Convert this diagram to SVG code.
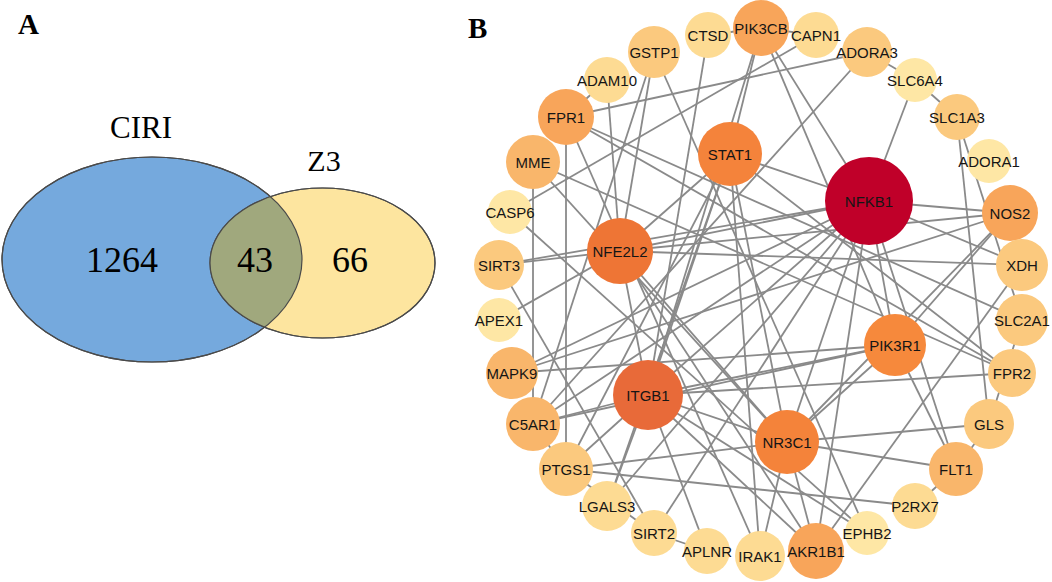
<svg xmlns="http://www.w3.org/2000/svg" width="1052" height="582" viewBox="0 0 1052 582">
<style>
.panel{font-family:"Liberation Serif","Times New Roman",serif;font-weight:bold;font-size:29px;fill:#000}
.venn{font-family:"Liberation Serif","Times New Roman",serif;fill:#000}
#edges line{stroke:#8a8a8a;stroke-width:1.8}
.n text{font-family:"Liberation Sans",Arial,sans-serif;font-size:15px;fill:#151515;text-anchor:middle;dominant-baseline:central}
.c1{fill:#FEE7A5}.c2{fill:#FDDB93}.c3{fill:#FBC97E}.c4{fill:#F9B66B}.c5{fill:#F8A55A}
</style>
<defs>
<clipPath id="clipBlue"><ellipse cx="152" cy="259.5" rx="150" ry="102.5"/></clipPath>
</defs>
<text class="panel" x="18" y="34">A</text>
<text class="panel" x="468" y="38">B</text>
<g id="venn">
<ellipse cx="152" cy="259.5" rx="150" ry="102.5" fill="#75A9DD" stroke="#4a4a4a" stroke-width="1.2"/>
<ellipse cx="322.5" cy="263" rx="112.5" ry="75" fill="#FDE59F" stroke="#4a4a4a" stroke-width="1.2"/>
<ellipse cx="322.5" cy="263" rx="112.5" ry="75" fill="#A0A87D" clip-path="url(#clipBlue)"/>
<ellipse cx="152" cy="259.5" rx="150" ry="102.5" fill="none" stroke="#4a4a4a" stroke-width="1.2"/>
<ellipse cx="322.5" cy="263" rx="112.5" ry="75" fill="none" stroke="#4a4a4a" stroke-width="1.2"/>
<text class="venn" x="141" y="138" font-size="31" text-anchor="middle">CIRI</text>
<text class="venn" x="324" y="171" font-size="30" text-anchor="middle">Z3</text>
<text class="venn" x="122" y="272" font-size="36" text-anchor="middle">1264</text>
<text class="venn" x="255" y="272" font-size="36" text-anchor="middle">43</text>
<text class="venn" x="350" y="272" font-size="36" text-anchor="middle">66</text>
</g>
<g id="edges">
<line x1="761" y1="28" x2="708" y2="35"/>
<line x1="761" y1="28" x2="816" y2="35"/>
<line x1="761" y1="28" x2="730" y2="154"/>
<line x1="761" y1="28" x2="869" y2="201"/>
<line x1="761" y1="28" x2="895" y2="345"/>
<line x1="761" y1="28" x2="648" y2="395"/>
<line x1="708" y1="35" x2="648" y2="395"/>
<line x1="816" y1="35" x2="510" y2="212"/>
<line x1="654" y1="52" x2="533" y2="424"/>
<line x1="654" y1="52" x2="620" y2="251"/>
<line x1="654" y1="52" x2="867" y2="533"/>
<line x1="607" y1="80" x2="566" y2="117"/>
<line x1="607" y1="80" x2="620" y2="251"/>
<line x1="566" y1="117" x2="867" y2="52"/>
<line x1="566" y1="117" x2="1022" y2="320"/>
<line x1="566" y1="117" x2="566" y2="469"/>
<line x1="566" y1="117" x2="1012" y2="373"/>
<line x1="566" y1="117" x2="760" y2="556"/>
<line x1="867" y1="52" x2="915" y2="80"/>
<line x1="867" y1="52" x2="533" y2="424"/>
<line x1="915" y1="80" x2="957" y2="117"/>
<line x1="915" y1="80" x2="869" y2="201"/>
<line x1="957" y1="117" x2="989" y2="424"/>
<line x1="957" y1="117" x2="1022" y2="320"/>
<line x1="533" y1="162" x2="533" y2="424"/>
<line x1="533" y1="162" x2="1012" y2="373"/>
<line x1="533" y1="162" x2="787" y2="442"/>
<line x1="510" y1="212" x2="867" y2="533"/>
<line x1="499" y1="265" x2="620" y2="251"/>
<line x1="499" y1="265" x2="869" y2="201"/>
<line x1="499" y1="265" x2="654" y2="533"/>
<line x1="499" y1="320" x2="620" y2="251"/>
<line x1="512" y1="373" x2="895" y2="345"/>
<line x1="512" y1="373" x2="1010" y2="213"/>
<line x1="533" y1="424" x2="648" y2="395"/>
<line x1="533" y1="424" x2="895" y2="345"/>
<line x1="533" y1="424" x2="566" y2="469"/>
<line x1="566" y1="469" x2="648" y2="395"/>
<line x1="566" y1="469" x2="787" y2="442"/>
<line x1="566" y1="469" x2="915" y2="506"/>
<line x1="566" y1="469" x2="654" y2="533"/>
<line x1="607" y1="506" x2="648" y2="395"/>
<line x1="607" y1="506" x2="730" y2="154"/>
<line x1="654" y1="533" x2="869" y2="201"/>
<line x1="654" y1="533" x2="707" y2="551"/>
<line x1="707" y1="551" x2="648" y2="395"/>
<line x1="760" y1="556" x2="730" y2="154"/>
<line x1="760" y1="556" x2="787" y2="442"/>
<line x1="816" y1="551" x2="787" y2="442"/>
<line x1="816" y1="551" x2="869" y2="201"/>
<line x1="816" y1="551" x2="1022" y2="265"/>
<line x1="816" y1="551" x2="648" y2="395"/>
<line x1="816" y1="551" x2="620" y2="251"/>
<line x1="915" y1="506" x2="956" y2="469"/>
<line x1="956" y1="469" x2="787" y2="442"/>
<line x1="956" y1="469" x2="895" y2="345"/>
<line x1="956" y1="469" x2="869" y2="201"/>
<line x1="956" y1="469" x2="989" y2="424"/>
<line x1="989" y1="424" x2="787" y2="442"/>
<line x1="989" y1="424" x2="1022" y2="320"/>
<line x1="1012" y1="373" x2="730" y2="154"/>
<line x1="1010" y1="213" x2="869" y2="201"/>
<line x1="1010" y1="213" x2="895" y2="345"/>
<line x1="1010" y1="213" x2="787" y2="442"/>
<line x1="1022" y1="265" x2="620" y2="251"/>
<line x1="1022" y1="265" x2="869" y2="201"/>
<line x1="869" y1="201" x2="730" y2="154"/>
<line x1="869" y1="201" x2="620" y2="251"/>
<line x1="869" y1="201" x2="648" y2="395"/>
<line x1="869" y1="201" x2="787" y2="442"/>
<line x1="869" y1="201" x2="895" y2="345"/>
<line x1="730" y1="154" x2="620" y2="251"/>
<line x1="730" y1="154" x2="648" y2="395"/>
<line x1="730" y1="154" x2="566" y2="469"/>
<line x1="730" y1="154" x2="787" y2="442"/>
<line x1="620" y1="251" x2="648" y2="395"/>
<line x1="620" y1="251" x2="787" y2="442"/>
<line x1="620" y1="251" x2="1010" y2="213"/>
<line x1="648" y1="395" x2="895" y2="345"/>
<line x1="648" y1="395" x2="787" y2="442"/>
<line x1="787" y1="442" x2="895" y2="345"/>
<line x1="648" y1="395" x2="1012" y2="373"/>
<line x1="648" y1="395" x2="867" y2="533"/>
<line x1="869" y1="201" x2="607" y2="506"/>
<line x1="869" y1="201" x2="512" y2="373"/>
<line x1="533" y1="424" x2="869" y2="201"/>
</g>
<g id="nodes">
<g id="n-PIK3CB" class="n"><circle cx="761" cy="28" r="28" class="c5"/><text x="761" y="28">PIK3CB</text></g>
<g id="n-CTSD" class="n"><circle cx="708" cy="35" r="23" class="c2"/><text x="708" y="35">CTSD</text></g>
<g id="n-CAPN1" class="n"><circle cx="816" cy="35" r="23" class="c2"/><text x="816" y="35">CAPN1</text></g>
<g id="n-GSTP1" class="n"><circle cx="654" cy="52" r="26" class="c3"/><text x="654" y="52">GSTP1</text></g>
<g id="n-ADORA3" class="n"><circle cx="867" cy="52" r="25" class="c3"/><text x="867" y="52">ADORA3</text></g>
<g id="n-ADAM10" class="n"><circle cx="607" cy="80" r="23" class="c2"/><text x="607" y="80">ADAM10</text></g>
<g id="n-SLC6A4" class="n"><circle cx="915" cy="80" r="22" class="c1"/><text x="915" y="80">SLC6A4</text></g>
<g id="n-FPR1" class="n"><circle cx="566" cy="117" r="28" class="c5"/><text x="566" y="117">FPR1</text></g>
<g id="n-SLC1A3" class="n"><circle cx="957" cy="117" r="23" class="c3"/><text x="957" y="117">SLC1A3</text></g>
<g id="n-MME" class="n"><circle cx="533" cy="162" r="27" class="c4"/><text x="533" y="162">MME</text></g>
<g id="n-ADORA1" class="n"><circle cx="989" cy="161" r="22" class="c1"/><text x="989" y="161">ADORA1</text></g>
<g id="n-CASP6" class="n"><circle cx="510" cy="212" r="22" class="c1"/><text x="510" y="212">CASP6</text></g>
<g id="n-NOS2" class="n"><circle cx="1010" cy="213" r="28" class="c5"/><text x="1010" y="213">NOS2</text></g>
<g id="n-SIRT3" class="n"><circle cx="499" cy="265" r="25" class="c3"/><text x="499" y="265">SIRT3</text></g>
<g id="n-XDH" class="n"><circle cx="1022" cy="265" r="26" class="c3"/><text x="1022" y="265">XDH</text></g>
<g id="n-APEX1" class="n"><circle cx="499" cy="320" r="22" class="c1"/><text x="499" y="320">APEX1</text></g>
<g id="n-SLC2A1" class="n"><circle cx="1022" cy="320" r="26" class="c3"/><text x="1022" y="320">SLC2A1</text></g>
<g id="n-MAPK9" class="n"><circle cx="512" cy="373" r="26" class="c4"/><text x="512" y="373">MAPK9</text></g>
<g id="n-FPR2" class="n"><circle cx="1012" cy="373" r="24" class="c3"/><text x="1012" y="373">FPR2</text></g>
<g id="n-C5AR1" class="n"><circle cx="533" cy="424" r="27" class="c4"/><text x="533" y="424">C5AR1</text></g>
<g id="n-GLS" class="n"><circle cx="989" cy="424" r="25" class="c3"/><text x="989" y="424">GLS</text></g>
<g id="n-PTGS1" class="n"><circle cx="566" cy="469" r="27" class="c3"/><text x="566" y="469">PTGS1</text></g>
<g id="n-FLT1" class="n"><circle cx="956" cy="469" r="27" class="c4"/><text x="956" y="469">FLT1</text></g>
<g id="n-LGALS3" class="n"><circle cx="607" cy="506" r="25" class="c2"/><text x="607" y="506">LGALS3</text></g>
<g id="n-P2RX7" class="n"><circle cx="915" cy="506" r="23" class="c2"/><text x="915" y="506">P2RX7</text></g>
<g id="n-SIRT2" class="n"><circle cx="654" cy="533" r="23" class="c2"/><text x="654" y="533">SIRT2</text></g>
<g id="n-EPHB2" class="n"><circle cx="867" cy="533" r="22" class="c1"/><text x="867" y="533">EPHB2</text></g>
<g id="n-APLNR" class="n"><circle cx="707" cy="551" r="23" class="c2"/><text x="707" y="551">APLNR</text></g>
<g id="n-AKR1B1" class="n"><circle cx="816" cy="551" r="28" class="c5"/><text x="816" y="551">AKR1B1</text></g>
<g id="n-IRAK1" class="n"><circle cx="760" cy="556" r="25" class="c2"/><text x="760" y="556">IRAK1</text></g>
<g id="n-NFKB1" class="n"><circle cx="869" cy="201" r="44" fill="#C00029"/><text x="869" y="201">NFKB1</text></g>
<g id="n-STAT1" class="n"><circle cx="730" cy="154" r="32" fill="#F4833B"/><text x="730" y="154">STAT1</text></g>
<g id="n-NFE2L2" class="n"><circle cx="620" cy="251" r="33" fill="#EE7535"/><text x="620" y="251">NFE2L2</text></g>
<g id="n-ITGB1" class="n"><circle cx="648" cy="395" r="35" fill="#E86A39"/><text x="648" y="395">ITGB1</text></g>
<g id="n-PIK3R1" class="n"><circle cx="895" cy="345" r="31" fill="#F6893C"/><text x="895" y="345">PIK3R1</text></g>
<g id="n-NR3C1" class="n"><circle cx="787" cy="442" r="32" fill="#F4833A"/><text x="787" y="442">NR3C1</text></g>
</g>
</svg>
